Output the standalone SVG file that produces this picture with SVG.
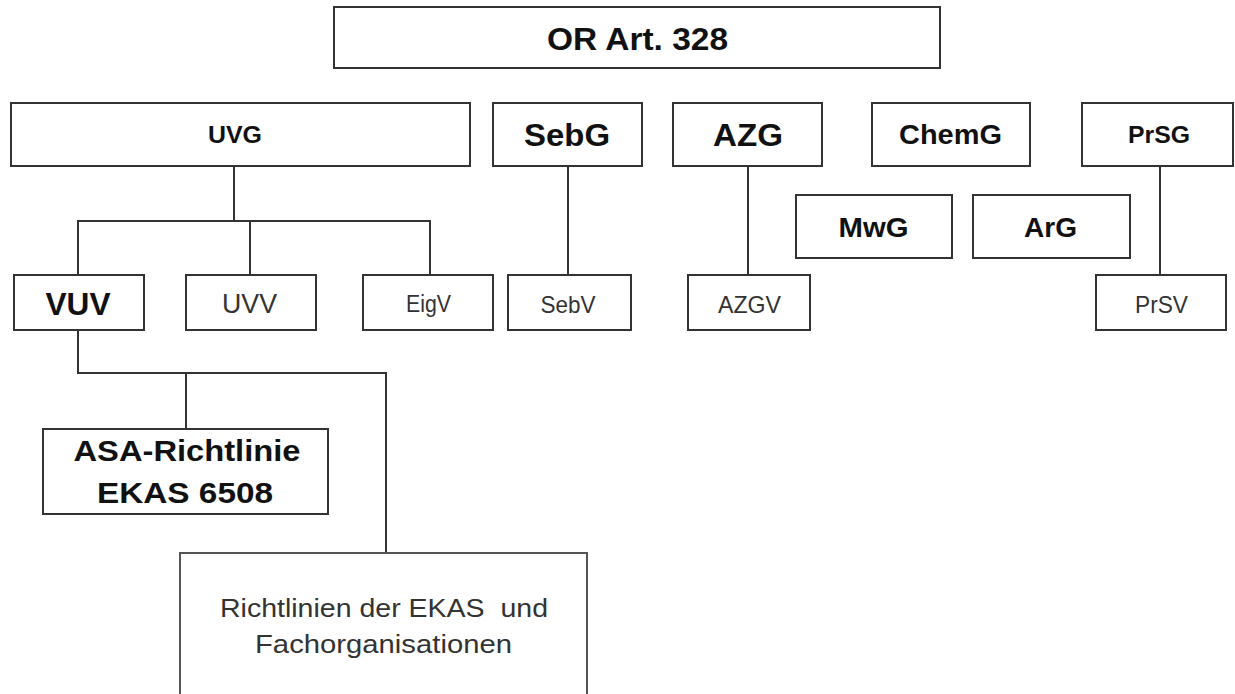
<svg xmlns="http://www.w3.org/2000/svg" width="1235" height="694" viewBox="0 0 1235 694">
<style>
.box{fill:#fff;stroke:#333;stroke-width:2}
.lbox{fill:#fff;stroke:#555;stroke-width:2}
.con{fill:none;stroke:#333;stroke-width:2}
text{font-family:"Liberation Sans",Arial,sans-serif;text-anchor:middle}
.b{font-weight:bold;fill:#111}
.r{fill:#333}
</style>
<rect width="1235" height="694" fill="#fff"/>
<g id="connectors">
<path class="con" d="M234,166V221M78,275V221H430V275M250,221V275"/>
<path class="con" d="M568,166V275"/>
<path class="con" d="M748,166V275"/>
<path class="con" d="M1160,166V275"/>
<path class="con" d="M78,330V373H386V553M186,373V429"/>
</g>
<g id="or"><rect class="box" x="334" y="7" width="606" height="61"/><text class="b" x="637.5" y="50" font-size="31" textLength="181" lengthAdjust="spacingAndGlyphs">OR Art. 328</text></g>
<g id="uvg"><rect class="box" x="11" y="103" width="459" height="63"/><text class="b" x="235" y="143" font-size="24" textLength="54" lengthAdjust="spacingAndGlyphs">UVG</text></g>
<g id="sebg"><rect class="box" x="493" y="103" width="149" height="63"/><text class="b" x="567" y="146" font-size="32" textLength="86" lengthAdjust="spacingAndGlyphs">SebG</text></g>
<g id="azg"><rect class="box" x="673" y="103" width="149" height="63"/><text class="b" x="748" y="146" font-size="32" textLength="70" lengthAdjust="spacingAndGlyphs">AZG</text></g>
<g id="chemg"><rect class="box" x="872" y="103" width="158" height="63"/><text class="b" x="950.5" y="144" font-size="27" textLength="103" lengthAdjust="spacingAndGlyphs">ChemG</text></g>
<g id="prsg"><rect class="box" x="1082" y="103" width="151" height="63"/><text class="b" x="1159" y="143" font-size="24" textLength="62" lengthAdjust="spacingAndGlyphs">PrSG</text></g>
<g id="mwg"><rect class="box" x="796" y="195" width="156" height="63"/><text class="b" x="873.5" y="237" font-size="27" textLength="70" lengthAdjust="spacingAndGlyphs">MwG</text></g>
<g id="arg"><rect class="box" x="973" y="195" width="157" height="63"/><text class="b" x="1050.5" y="237" font-size="27" textLength="53" lengthAdjust="spacingAndGlyphs">ArG</text></g>
<g id="vuv"><rect class="box" x="14" y="275" width="130" height="55"/><text class="b" x="78" y="315" font-size="32" textLength="65" lengthAdjust="spacingAndGlyphs">VUV</text></g>
<g id="uvv"><rect class="box" x="186" y="275" width="130" height="55"/><text class="r" x="249.5" y="313" font-size="27" textLength="55" lengthAdjust="spacingAndGlyphs">UVV</text></g>
<g id="eigv"><rect class="box" x="363" y="275" width="130" height="55"/><text class="r" x="428.5" y="312" font-size="23" textLength="45" lengthAdjust="spacingAndGlyphs">EigV</text></g>
<g id="sebv"><rect class="box" x="508" y="275" width="123" height="55"/><text class="r" x="568" y="313" font-size="24" textLength="55" lengthAdjust="spacingAndGlyphs">SebV</text></g>
<g id="azgv"><rect class="box" x="688" y="275" width="122" height="55"/><text class="r" x="749.5" y="313" font-size="24" textLength="63" lengthAdjust="spacingAndGlyphs">AZGV</text></g>
<g id="prsv"><rect class="box" x="1096" y="275" width="130" height="55"/><text class="r" x="1161.5" y="313" font-size="24" textLength="53" lengthAdjust="spacingAndGlyphs">PrSV</text></g>
<g id="asa"><rect class="box" x="43" y="429" width="285" height="85"/><text class="b" x="187" y="461" font-size="30" textLength="227" lengthAdjust="spacingAndGlyphs">ASA-Richtlinie</text><text class="b" x="185" y="503" font-size="30" textLength="176" lengthAdjust="spacingAndGlyphs">EKAS 6508</text></g>
<g id="richtlinien"><rect class="lbox" x="180" y="553" width="407" height="160"/><text class="r" x="384" y="617" font-size="26" xml:space="preserve" textLength="328" lengthAdjust="spacingAndGlyphs">Richtlinien der EKAS  und</text><text class="r" x="383.5" y="653" font-size="26" textLength="257" lengthAdjust="spacingAndGlyphs">Fachorganisationen</text></g>
</svg>
